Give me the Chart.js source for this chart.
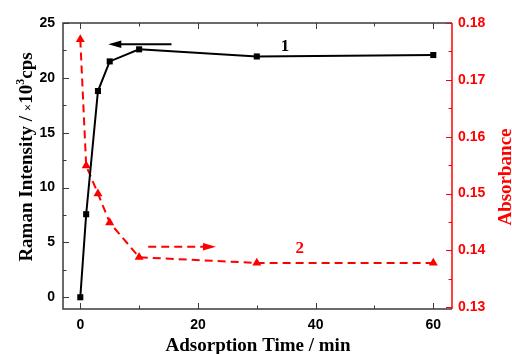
<!DOCTYPE html>
<html>
<head>
<meta charset="utf-8">
<script src="https://cdn.jsdelivr.net/npm/chart.js"></script>
<style>
html,body{margin:0;padding:0;background:#fff;}
#wrap{width:512px;height:354px;position:relative;}
canvas{display:block;}
</style>
</head>
<body>
<div id="wrap"><canvas id="c" width="512" height="354" style="width:512px;height:354px"></canvas></div>
<script>
// ---- data ----
const times = [0, 1, 3, 5, 10, 30, 60];
const raman = [0, 7.57, 18.8, 21.5, 22.6, 21.95, 22.08];
const absorbance = [0.1771, 0.1549, 0.1500, 0.1449, 0.1388, 0.1378, 0.1378];
const xMajor = [0, 20, 40, 60];
const xMinor = [10, 30, 50];
const yLeftMajor = [0, 5, 10, 15, 20, 25];
const yLeftMinor = [2.5, 7.5, 12.5, 17.5, 22.5];
const yRightMajor = [0.13, 0.14, 0.15, 0.16, 0.17, 0.18];
const yRightMinor = [0.135, 0.145, 0.155, 0.165, 0.175];
// annotations (data coordinates)
const arrow1 = {x0: 15.5, x1: 4.76, y: 23.06};      // left axis units
const arrow2 = {x0: 11.55, x1: 23.06, y: 0.14065};  // right axis units
const label1 = {x: 34.8, y: 22.88, text: '1'};
const label2 = {x: 37.3, y: 0.1404, text: '2'};

const RED = '#ff0000';
const FRAME = '#3a3a3a';
const TICKFONT = {family: 'Liberation Sans, Arial, sans-serif', size: 14, weight: 'bold'};
const SERIF = 'Liberation Serif, Times New Roman, serif';

function drawSegments(ctx, segs, cx, cy, rot) {
  ctx.save();
  ctx.translate(cx, cy);
  ctx.rotate(rot);
  ctx.textBaseline = 'alphabetic';
  ctx.textAlign = 'left';
  let total = 0;
  segs.forEach(s => { ctx.font = s.f; s.w = ctx.measureText(s.t).width; total += s.w; });
  let x = -total / 2;
  segs.forEach(s => { ctx.font = s.f; ctx.fillStyle = s.c; ctx.fillText(s.t, x, s.dy || 0); x += s.w; });
  ctx.restore();
}

function arrowHead(ctx, xTip, y, dir, len, half, color) {
  ctx.beginPath();
  ctx.moveTo(xTip, y);
  ctx.lineTo(xTip - dir * len, y - half);
  ctx.lineTo(xTip - dir * len, y + half);
  ctx.closePath();
  ctx.fillStyle = color;
  ctx.fill();
}

const framePlugin = {
  id: 'frame',
  afterDatasetsDraw(chart) {
    const ctx = chart.ctx;
    const {left, right, top, bottom} = chart.chartArea;
    const xs = chart.scales.x, yl = chart.scales.y, yr = chart.scales.y2;
    ctx.save();
    // frame
    ctx.lineWidth = 1.5;
    ctx.strokeStyle = FRAME;
    ctx.beginPath();
    ctx.moveTo(right, top); ctx.lineTo(left, top); ctx.lineTo(left, bottom); ctx.lineTo(right, bottom);
    ctx.stroke();
    ctx.strokeStyle = RED;
    ctx.beginPath(); ctx.moveTo(right, top); ctx.lineTo(right, bottom); ctx.stroke();
    // ticks
    ctx.lineWidth = 1;
    ctx.strokeStyle = FRAME;
    ctx.beginPath();
    xMajor.forEach(v => { const p = Math.round(xs.getPixelForValue(v)) + 0.5;
      ctx.moveTo(p, bottom); ctx.lineTo(p, bottom - 6); ctx.moveTo(p, top); ctx.lineTo(p, top + 6); });
    xMinor.forEach(v => { const p = Math.round(xs.getPixelForValue(v)) + 0.5;
      ctx.moveTo(p, bottom); ctx.lineTo(p, bottom - 3.5); ctx.moveTo(p, top); ctx.lineTo(p, top + 3.5); });
    yLeftMajor.forEach(v => { const p = Math.round(yl.getPixelForValue(v)) + 0.5;
      ctx.moveTo(left, p); ctx.lineTo(left + 6, p); });
    yLeftMinor.forEach(v => { const p = Math.round(yl.getPixelForValue(v)) + 0.5;
      ctx.moveTo(left, p); ctx.lineTo(left + 3.5, p); });
    ctx.stroke();
    ctx.strokeStyle = RED;
    ctx.beginPath();
    yRightMajor.forEach(v => { const p = Math.round(yr.getPixelForValue(v)) + 0.5;
      ctx.moveTo(right, p); ctx.lineTo(right - 6, p); });
    yRightMinor.forEach(v => { const p = Math.round(yr.getPixelForValue(v)) + 0.5;
      ctx.moveTo(right, p); ctx.lineTo(right - 3.5, p); });
    ctx.stroke();

    // arrow 1 (black, solid, pointing left)
    const a1y = yl.getPixelForValue(arrow1.y);
    const a1x0 = xs.getPixelForValue(arrow1.x0), a1x1 = xs.getPixelForValue(arrow1.x1);
    ctx.strokeStyle = '#000'; ctx.lineWidth = 2; ctx.setLineDash([]);
    ctx.beginPath(); ctx.moveTo(a1x0, a1y); ctx.lineTo(a1x1 + 10, a1y); ctx.stroke();
    arrowHead(ctx, a1x1, a1y, -1, 13, 3.8, '#000');
    // arrow 2 (red, dashed, pointing right)
    const a2y = yr.getPixelForValue(arrow2.y);
    const a2x0 = xs.getPixelForValue(arrow2.x0), a2x1 = xs.getPixelForValue(arrow2.x1);
    ctx.strokeStyle = RED; ctx.lineWidth = 2; ctx.setLineDash([8, 5]);
    ctx.beginPath(); ctx.moveTo(a2x0, a2y); ctx.lineTo(a2x1 - 12, a2y); ctx.stroke();
    ctx.setLineDash([]);
    arrowHead(ctx, a2x1, a2y, 1, 13, 3.8, RED);

    // labels
    ctx.textAlign = 'center'; ctx.textBaseline = 'middle';
    ctx.font = 'bold 17px ' + SERIF;
    ctx.fillStyle = '#000';
    ctx.fillText(label1.text, xs.getPixelForValue(label1.x), yl.getPixelForValue(label1.y));
    ctx.fillStyle = RED;
    ctx.fillText(label2.text, xs.getPixelForValue(label2.x), yr.getPixelForValue(label2.y));

    // axis titles
    const big = 'bold 19px ' + SERIF;
    drawSegments(ctx, [
      {t: 'Raman Intensity / ', f: big, c: '#000'},
      {t: '×', f: 'bold 13px ' + SERIF, c: '#000'},
      {t: '10', f: big, c: '#000'},
      {t: '3', f: 'bold 12px ' + SERIF, c: '#000', dy: -8},
      {t: 'cps', f: big, c: '#000'}
    ], 31.5, 157, -Math.PI / 2);
    drawSegments(ctx, [{t: 'Adsorption Time / min', f: big, c: '#000'}], 258, 351, 0);
    drawSegments(ctx, [{t: 'Absorbance', f: big, c: RED}], 511, 177, -Math.PI / 2);
    ctx.restore();
  }
};

function setTicks(values) {
  return function (scale) { scale.ticks = values.map(v => ({value: v})); };
}

new Chart(document.getElementById('c'), {
  type: 'line',
  data: {
    datasets: [
      {
        label: 'Raman',
        data: times.map((t, i) => ({x: t, y: raman[i]})),
        yAxisID: 'y',
        borderColor: '#000',
        backgroundColor: '#000',
        borderWidth: 2,
        pointStyle: 'rect',
        pointRadius: 4.3,
        pointBorderWidth: 0,
        tension: 0,
        order: 1
      },
      {
        label: 'Absorbance',
        data: times.map((t, i) => ({x: t, y: absorbance[i]})),
        yAxisID: 'y2',
        borderColor: RED,
        backgroundColor: RED,
        borderWidth: 2,
        borderDash: [8, 5],
        pointStyle: 'triangle',
        pointRadius: 5.2,
        pointBorderWidth: 0,
        tension: 0,
        order: 2
      }
    ]
  },
  options: {
    responsive: false,
    animation: false,
    devicePixelRatio: 1,
    layout: {padding: {top: 23, left: 0, right: 0, bottom: 0}},
    plugins: {legend: {display: false}, tooltip: {enabled: false}},
    scales: {
      x: {
        type: 'linear', position: 'bottom', min: -2.94, max: 63.18,
        afterBuildTicks: setTicks(xMajor),
        afterFit(s) { s.height = 45; },
        grid: {display: false, drawTicks: false},
        border: {display: false},
        ticks: {color: '#000', font: TICKFONT, padding: 8, callback: v => String(v), maxRotation: 0, autoSkip: false}
      },
      y: {
        type: 'linear', position: 'left', min: -1.07, max: 25,
        afterBuildTicks: setTicks(yLeftMajor),
        afterFit(s) { s.width = 63; },
        grid: {display: false, drawTicks: false},
        border: {display: false},
        ticks: {color: '#000', font: TICKFONT, padding: 8, callback: v => String(v), autoSkip: false}
      },
      y2: {
        type: 'linear', position: 'right', min: 0.1297, max: 0.18,
        afterBuildTicks: setTicks(yRightMajor),
        afterFit(s) { s.width = 60; },
        grid: {display: false, drawTicks: false},
        border: {display: false},
        ticks: {color: RED, font: TICKFONT, padding: 6, callback: v => Number(v).toFixed(2), autoSkip: false}
      }
    }
  },
  plugins: [framePlugin]
});
</script>
</body>
</html>
